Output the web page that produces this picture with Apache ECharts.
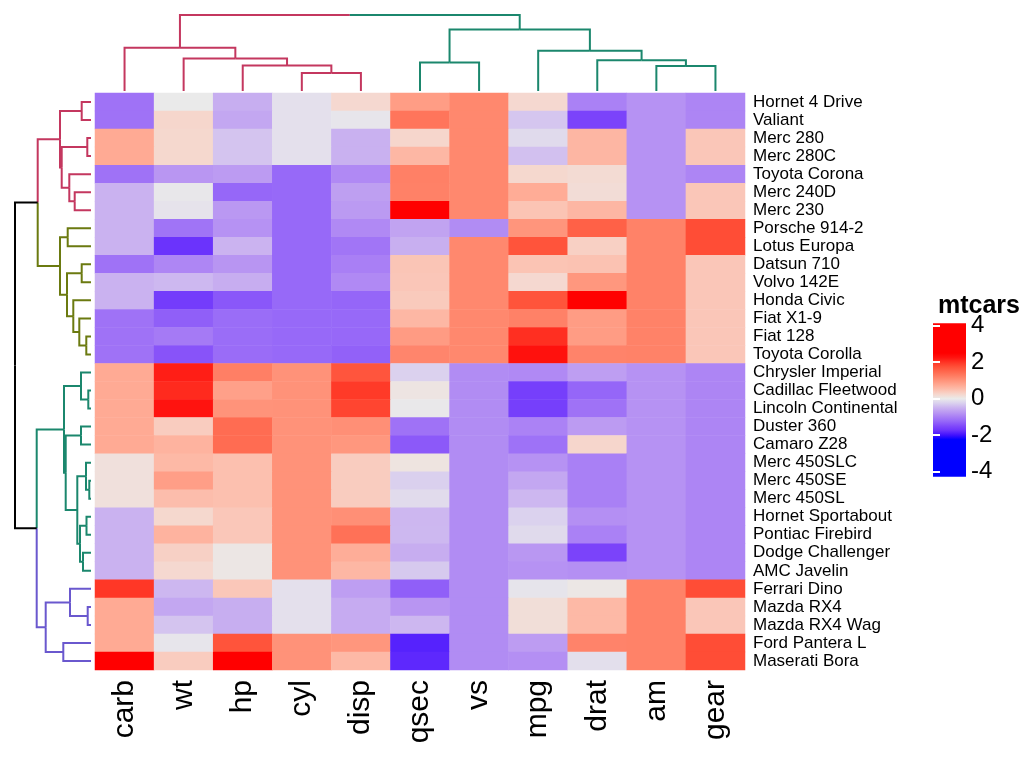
<!DOCTYPE html>
<html><head><meta charset="utf-8">
<script src="https://cdn.jsdelivr.net/npm/echarts@6/dist/echarts.min.js"></script>
<style>html,body{margin:0;padding:0;background:#fff}#c{width:1036px;height:768px}</style>
</head><body><div id="c"></div>
<script>
const FONT = "'Liberation Sans', Arial, Helvetica, sans-serif";

const rowNames = ['Hornet 4 Drive','Valiant','Merc 280','Merc 280C','Toyota Corona','Merc 240D','Merc 230',
  'Porsche 914-2','Lotus Europa','Datsun 710','Volvo 142E','Honda Civic','Fiat X1-9','Fiat 128','Toyota Corolla',
  'Chrysler Imperial','Cadillac Fleetwood','Lincoln Continental','Duster 360','Camaro Z28','Merc 450SLC','Merc 450SE',
  'Merc 450SL','Hornet Sportabout','Pontiac Firebird','Dodge Challenger','AMC Javelin','Ferrari Dino','Mazda RX4',
  'Mazda RX4 Wag','Ford Pantera L','Maserati Bora'];
const colNames = ['carb','wt','hp','cyl','disp','qsec','vs','mpg','drat','am','gear'];

// scaled (z-score) values, one array per column, rows in the order above
const carb = [-1.12,-1.12,0.74,0.74,-1.12,-0.50,-0.50,-0.50,-0.50,-1.12,-0.50,-0.50,-1.12,-1.12,-1.12,0.74,0.74,0.74,0.74,0.74,0.12,0.12,0.12,-0.50,-0.50,-0.50,-0.50,1.97,0.74,0.74,0.74,3.21];
const wt   = [0.00,0.25,0.23,0.23,-0.77,-0.03,-0.07,-1.10,-1.74,-0.92,-0.45,-1.64,-1.31,-1.04,-1.41,2.17,2.08,2.26,0.36,0.64,0.57,0.87,0.52,0.23,0.64,0.31,0.22,-0.46,-0.61,-0.35,-0.05,0.36];
const hp   = [-0.54,-0.61,-0.35,-0.35,-0.72,-1.24,-0.75,-0.81,-0.49,-0.78,-0.55,-1.38,-1.18,-1.18,-1.19,1.22,0.85,1.00,1.43,1.43,0.49,0.49,0.49,0.41,0.41,0.05,0.05,0.41,-0.54,-0.54,1.71,2.75];
const cyl  = [-0.10,-0.10,-0.10,-0.10,-1.22,-1.22,-1.22,-1.22,-1.22,-1.22,-1.22,-1.22,-1.22,-1.22,-1.22,1.01,1.01,1.01,1.01,1.01,1.01,1.01,1.01,1.01,1.01,1.01,1.01,-0.10,-0.10,-0.10,1.01,1.01];
const disp = [0.22,-0.05,-0.51,-0.51,-0.89,-0.68,-0.73,-0.89,-1.09,-0.99,-0.89,-1.25,-1.22,-1.23,-1.29,1.69,1.95,1.85,1.04,0.96,0.36,0.36,0.36,1.04,1.37,0.70,0.59,-0.69,-0.57,-0.57,0.97,0.57];
const qsec = [0.89,1.33,0.25,0.59,1.21,1.20,2.83,-0.64,-0.53,0.43,0.42,0.38,0.59,0.91,1.15,-0.24,0.07,-0.02,-1.12,-1.36,0.08,-0.25,-0.14,-0.46,-0.45,-0.55,-0.31,-1.31,-0.78,-0.46,-1.87,-1.82];
const vs   = [1.12,1.12,1.12,1.12,1.12,1.12,1.12,-0.87,1.12,1.12,1.12,1.12,1.12,1.12,1.12,-0.87,-0.87,-0.87,-0.87,-0.87,-0.87,-0.87,-0.87,-0.87,-0.87,-0.87,-0.87,-0.87,-0.87,-0.87,-0.87,-0.87];
const mpg  = [0.22,-0.33,-0.15,-0.38,0.23,0.72,0.45,0.98,1.71,0.45,0.22,1.71,1.20,2.04,2.29,-0.89,-1.61,-1.61,-0.96,-1.13,-0.81,-0.61,-0.46,-0.23,-0.15,-0.76,-0.81,-0.06,0.15,0.15,-0.71,-0.84];
const drat = [-0.97,-1.56,0.60,0.60,0.19,0.17,0.60,1.56,0.32,0.47,0.96,2.49,0.90,0.90,1.17,-0.69,-1.25,-1.12,-0.72,0.25,-0.98,-0.98,-0.98,-0.84,-0.97,-1.56,-0.84,0.04,0.57,0.57,1.17,-0.11];
const am   = [-0.81,-0.81,-0.81,-0.81,-0.81,-0.81,-0.81,1.19,1.19,1.19,1.19,1.19,1.19,1.19,1.19,-0.81,-0.81,-0.81,-0.81,-0.81,-0.81,-0.81,-0.81,-0.81,-0.81,-0.81,-0.81,1.19,1.19,1.19,1.19,1.19];
const gear = [-0.93,-0.93,0.42,0.42,-0.93,0.42,0.42,1.78,1.78,0.42,0.42,0.42,0.42,0.42,0.42,-0.93,-0.93,-0.93,-0.93,-0.93,-0.93,-0.93,-0.93,-0.93,-0.93,-0.93,-0.93,1.78,0.42,0.42,1.78,1.78];

// dendrograms: [height, left, right, clusterIndex?]; numbers are leaf indices
const colTree = [227,
  [129, 0, [97, 1, [76, 2, [54, 3, 4]]], 0],
  [184, [85, 5, 6], [120, 7, [92, 8, [75, 9, 10]]], 1]];
const rowTree = [76,
  [53.3,
    [31, [9.3, 0, 1], [29.3, [3.7, 2, 3], [21.7, 4, [16.3, 5, 6]]], 0],
    [31, [23.3, 7, 8], [24, [9.3, 9, 10], [17.7, 11, [11.7, 12, [4.7, 13, 14]]]], 1]],
  [54.3,
    [27, [10, 15, [2.7, 16, 17]], [25.3, [10, 18, 19], [13.7, [5, 20, [1.7, 21, 22]], [11, [4.5, 23, 24], [8, 25, 26]]]], 2],
    [45.3, [21, 27, [3.3, 28, 29]], [27.7, 30, 31], 3]]];
const colClusterColors = ['#C4375F', '#1B876D'];
const rowClusterColors = ['#C4375F', '#6B7A10', '#1B876D', '#6A58CE'];

const legendTicks = [-4, -2, 0, 2, 4];
// colour ramp from -4 to 4 in steps of 0.25
const rampColors = ['#0000FF','#0000FF','#0000FF','#0000FF','#0000FF','#0000FF','#0000FF','#0000FF',
  '#4010FE','#6A32FC','#8049FA','#9566F8','#A87EF5','#BA98F2','#CAB2F0','#DAD0EE','#EAEAEA',
  '#F6D6CC','#FCBFAE','#FFA993','#FF937A','#FF7C62','#FF664C','#FF5038','#FF3424','#FF1410',
  '#FF0000','#FF0000','#FF0000','#FF0000','#FF0000','#FF0000','#FF0000'];

const colArrays = [carb, wt, hp, cyl, disp, qsec, vs, mpg, drat, am, gear];
const heatData = [];
rowNames.forEach((r, ri) => colArrays.forEach((arr, ci) => heatData.push([ci, ri, arr[ri]])));

function layoutTree(t, inherited, segs) {
  if (typeof t === 'number') return { pos: t, h: 0 };
  const own = (t[3] !== undefined) ? t[3] : inherited;
  const l = layoutTree(t[1], own, segs), r = layoutTree(t[2], own, segs);
  const pos = (l.pos + r.pos) / 2;
  [[t[1], l], [t[2], r]].forEach(([child, lc]) => {
    const cc = (Array.isArray(child) && child[3] !== undefined) ? child[3] : own;
    segs.push([pos, t[0], lc.pos, t[0], lc.pos, lc.h, cc]);
  });
  return { pos, h: t[0] };
}
const colSegs = []; layoutTree(colTree, -1, colSegs);
const rowSegs = []; layoutTree(rowTree, -1, rowSegs);
// top: x = position, y = height ; left: x = height, y = position
const topData = colSegs.map(s => [s[0], s[1], s[2], s[3], s[4], s[5], s[6]]);
const leftData = rowSegs.map(s => [s[1], s[0], s[3], s[2], s[5], s[4], s[6]]);

function dendroRender(colors) {
  return function (params, api) {
    const p1 = api.coord([api.value(0), api.value(1)]);
    const p2 = api.coord([api.value(2), api.value(3)]);
    const p3 = api.coord([api.value(4), api.value(5)]);
    const ci = api.value(6);
    return { type: 'polyline', shape: { points: [p1, p2, p3] },
      style: { stroke: ci < 0 ? '#000000' : colors[ci], lineWidth: 2, fill: null } };
  };
}

const LEG_TOP = 4.13, LEG_BOT = -4.27;
const chart = echarts.init(document.getElementById('c'), null, { renderer: 'canvas' });
chart.setOption({
  backgroundColor: '#ffffff',
  animation: false,
  textStyle: { fontFamily: FONT },
  title: { text: 'mtcars', left: 933, top: 289,
    textStyle: { fontSize: 25, fontWeight: 'bold', color: '#000', fontFamily: FONT } },
  grid: [
    { left: 95, top: 93, width: 650, height: 577 },      // heatmap
    { left: 95, top: 15, width: 650, height: 76 },       // column dendrogram
    { left: 15, top: 93, width: 76, height: 577 },       // row dendrogram
    { left: 933, top: 325.7, width: 33, height: 146 }    // legend
  ],
  xAxis: [
    { type: 'category', gridIndex: 0, data: colNames, position: 'bottom',
      axisLine: { show: false }, axisTick: { show: false }, splitLine: { show: false },
      axisLabel: { interval: 0, rotate: 90, fontSize: 30, color: '#000', margin: 10, fontFamily: FONT } },
    { type: 'value', gridIndex: 1, min: -0.5, max: 10.5, show: false },
    { type: 'value', gridIndex: 2, min: 0, max: 76, inverse: true, show: false },
    { type: 'value', gridIndex: 3, min: 0, max: 1, show: false }
  ],
  yAxis: [
    { type: 'category', gridIndex: 0, data: rowNames, inverse: true, position: 'right',
      axisLine: { show: false }, axisTick: { show: false }, splitLine: { show: false },
      axisLabel: { interval: 0, fontSize: 17, color: '#000', margin: 8, fontFamily: FONT } },
    { type: 'value', gridIndex: 1, min: 0, max: 227, show: false },
    { type: 'value', gridIndex: 2, min: -0.5, max: 31.5, inverse: true, show: false },
    { type: 'value', gridIndex: 3, min: -4, max: 4, interval: 2, position: 'right', z: 10,
      axisLine: { show: false }, splitLine: { show: false },
      axisTick: { show: true, inside: true, length: 7, lineStyle: { color: '#ffffff', width: 2 } },
      axisLabel: { fontSize: 24, color: '#000', margin: 5, fontFamily: FONT } },
    { type: 'value', gridIndex: 3, min: -4, max: 4, interval: 2, position: 'left', z: 10,
      axisLine: { show: false }, splitLine: { show: false },
      axisTick: { show: true, inside: true, length: 7, lineStyle: { color: '#ffffff', width: 2 } },
      axisLabel: { show: false } }
  ],
  visualMap: { type: 'continuous', show: false, min: -4, max: 4, seriesIndex: 0,
    inRange: { color: rampColors } },
  series: [
    { type: 'heatmap', xAxisIndex: 0, yAxisIndex: 0, data: heatData,
      itemStyle: { borderWidth: 0 }, emphasis: { disabled: true } },
    { type: 'custom', xAxisIndex: 1, yAxisIndex: 1, data: topData, clip: false,
      renderItem: dendroRender(colClusterColors) },
    { type: 'custom', xAxisIndex: 2, yAxisIndex: 2, data: leftData, clip: false,
      renderItem: dendroRender(rowClusterColors) },
    { type: 'custom', xAxisIndex: 3, yAxisIndex: 3, data: [[0, LEG_TOP, 1, LEG_BOT]], clip: false, z: 1,
      renderItem: function (params, api) {
        const a = api.coord([api.value(0), api.value(1)]);
        const b = api.coord([api.value(2), api.value(3)]);
        const span = LEG_TOP - LEG_BOT;
        const stops = [{ offset: 0, color: rampColors[rampColors.length - 1] }];
        for (let i = rampColors.length - 1; i >= 0; i--) {
          const v = -4 + i * 0.25;
          const off = (LEG_TOP - v) / span;
          if (off >= 0 && off <= 1) stops.push({ offset: off, color: rampColors[i] });
        }
        stops.push({ offset: 1, color: rampColors[0] });
        return { type: 'rect', shape: { x: a[0], y: a[1], width: b[0] - a[0], height: b[1] - a[1] },
          style: { fill: new echarts.graphic.LinearGradient(0, 0, 0, 1, stops) } };
      } }
  ]
});
</script></body></html>
